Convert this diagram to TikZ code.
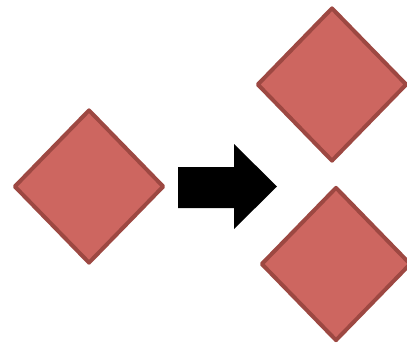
\documentclass[tikz,border=0pt]{standalone}
\usepackage{xcolor}
\usepackage{tikz}
\usetikzlibrary{positioning,shapes.geometric}
\definecolor{tilered}{HTML}{CD6660}
\definecolor{tileedge}{HTML}{9D4842}
\tikzset{
  tile/.style={diamond, fill=tilered, draw=tileedge, line width=4pt,
    line join=round, inner sep=0pt, minimum width=150pt, minimum height=154pt}
}

\begin{document}
\begin{tikzpicture}[x=1pt,y=-1pt]
\useasboundingbox (0,0) rectangle (407,346);
\clip (0,0) rectangle (407,346);
% split: one tile becomes two
\node[tile] (whole) at (89,186.5) {};
\node[tile] (upper) at (332,84.5) {};
\node[tile] (lower) at (336,264) {};
% block arrow
\fill[black] (178,167) -- (234,167) -- (234,144) -- (277,186.5)
  -- (234,229) -- (234,208) -- (178,208) -- cycle;
\end{tikzpicture}
\end{document}
